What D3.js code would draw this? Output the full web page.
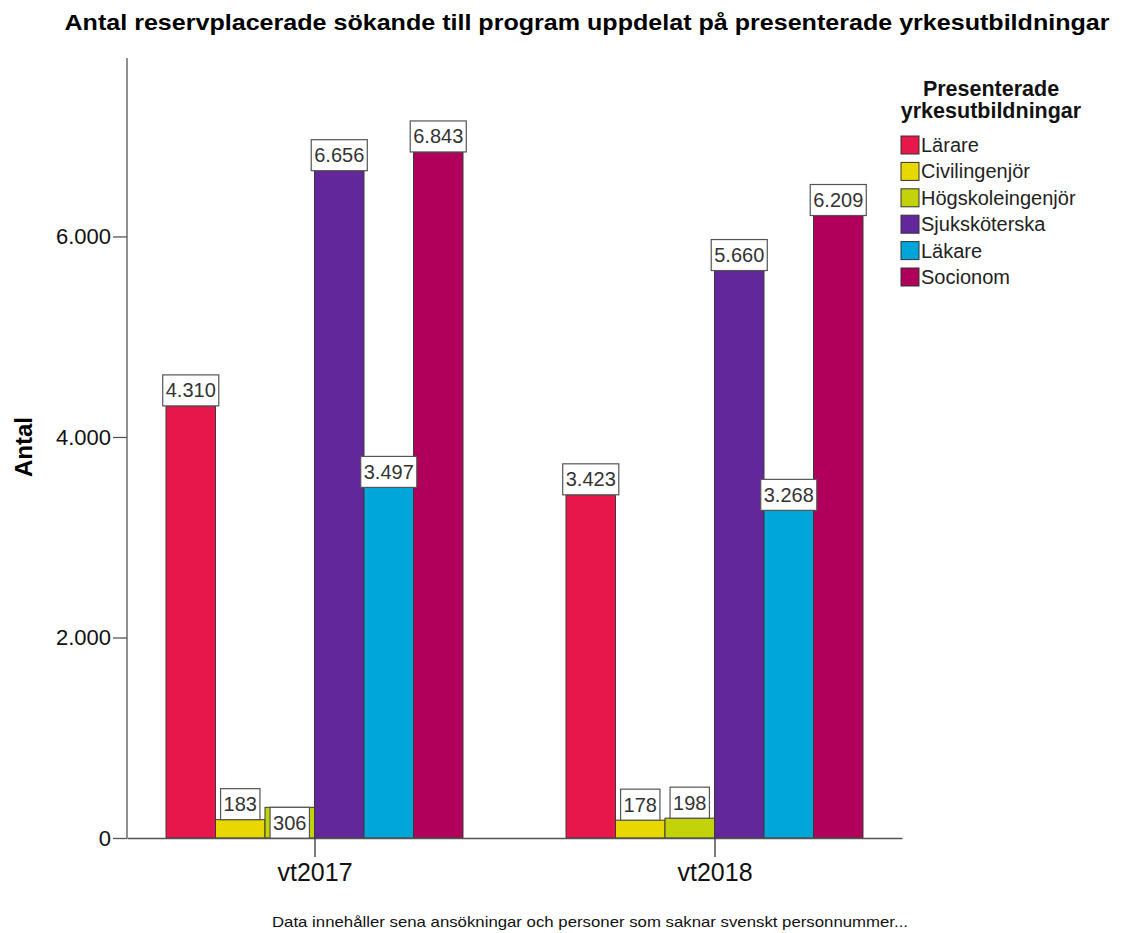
<!DOCTYPE html>
<html><head><meta charset="utf-8">
<script src="https://cdn.jsdelivr.net/npm/d3@7"></script>
<style>body{margin:0;background:#fff}svg{display:block}text{font-family:"Liberation Sans",Arial,sans-serif}</style>
</head><body>
<script>
const groups = ["vt2017", "vt2018"];
const series = ["Lärare", "Civilingenjör", "Högskoleingenjör", "Sjuksköterska", "Läkare", "Socionom"];
const values2017 = [4310, 183, 306, 6656, 3497, 6843];
const values2018 = [3423, 178, 198, 5660, 3268, 6209];
const colors = ["#E8174B", "#E8D800", "#C2D30A", "#62279B", "#00A6DA", "#B0005B"];
const yTicks = [0, 2000, 4000, 6000];
const insideLabels = ["vt2017|Högskoleingenjör"];
const title = "Antal reservplacerade sökande till program uppdelat på presenterade yrkesutbildningar";
const legendTitle = ["Presenterade", "yrkesutbildningar"];
const footnote = "Data innehåller sena ansökningar och personer som saknar svenskt personnummer...";

(function () {
const data = groups.map((g, i) => ({group: g, vals: (i === 0 ? values2017 : values2018)}));
const W = 1125, H = 933;
const svg = d3.select("body").append("svg").attr("width", W).attr("height", H);
const locale = d3.formatLocale({decimal: ",", thousands: ".", grouping: [3], currency: ["", ""]});
const fmt = locale.format(",d");

const pL = 127, pR = 902, pT = 58, pB = 838;
const y = d3.scaleLinear().domain([0, 7780]).range([pB, pT]);
const x0 = d3.scalePoint().domain(groups).range([pL, pR]).padding(0.46875);
const groupW = 297;
const x1 = d3.scaleBand().domain(series).range([-groupW / 2, groupW / 2]).padding(0);
const color = d3.scaleOrdinal().domain(series).range(colors);

svg.append("text").attr("x", 587).attr("y", 30).attr("text-anchor", "middle")
  .attr("font-size", 22).attr("font-weight", "bold").attr("fill", "#000")
  .attr("textLength", 1045).attr("lengthAdjust", "spacingAndGlyphs").text(title);

const g = svg.selectAll("g.grp").data(data).join("g").attr("class", "grp")
  .attr("transform", d => `translate(${x0(d.group)},0)`);
g.selectAll("rect").data(d => d.vals.map((v, i) => ({group: d.group, s: series[i], v})))
  .join("rect")
  .attr("x", d => x1(d.s)).attr("width", x1.bandwidth())
  .attr("y", d => y(d.v)).attr("height", d => y(0) - y(d.v))
  .attr("fill", d => color(d.s)).attr("stroke", "#3a3a3a").attr("stroke-width", 1);

const yAxis = d3.axisLeft(y).tickValues(yTicks).tickFormat(fmt).tickSize(14).tickPadding(2);
const ya = svg.append("g").attr("transform", `translate(${pL},0)`).call(yAxis);
ya.select(".domain").attr("stroke", "#555").attr("stroke-width", 1.3).attr("d", `M0,${pT}V${pB}`);
ya.selectAll(".tick line").attr("stroke", "#555").attr("stroke-width", 1.3);
ya.selectAll(".tick text").attr("font-size", 22).attr("fill", "#111")
  .attr("font-family", '"Liberation Sans",Arial,sans-serif');

const xAxis = d3.axisBottom(x0).tickSize(19).tickPadding(6).tickSizeOuter(0);
const xa = svg.append("g").attr("transform", `translate(0,${pB})`).call(xAxis);
xa.select(".domain").attr("stroke", "#555").attr("stroke-width", 1.3);
xa.selectAll(".tick line").attr("stroke", "#333").attr("stroke-width", 1.3);
xa.selectAll(".tick text").attr("font-size", 25).attr("fill", "#111")
  .attr("font-family", '"Liberation Sans",Arial,sans-serif');

svg.append("text").attr("transform", "translate(32,447) rotate(-90)").attr("text-anchor", "middle")
  .attr("font-size", 24).attr("font-weight", "bold").attr("fill", "#000").text("Antal");

g.each(function(d) {
  const gg = d3.select(this);
  d.vals.forEach((v, i) => {
    const s = series[i];
    const inside = insideLabels.includes(d.group + "|" + s);
    const cx = x1(s) + x1.bandwidth() / 2;
    const bh = 31;
    const boxTop = inside ? y(v) : y(v) - bh;
    const lg = gg.append("g");
    const t = lg.append("text").attr("x", cx).attr("y", boxTop + bh / 2 + 7)
      .attr("text-anchor", "middle").attr("font-size", 20).attr("fill", "#333").text(fmt(v));
    const bw = t.node().getComputedTextLength() + 6;
    lg.insert("rect", "text").attr("x", cx - bw / 2).attr("y", boxTop)
      .attr("width", bw).attr("height", bh).attr("fill", "#fff")
      .attr("stroke", "#555").attr("stroke-width", 1.2);
  });
});

const lgd = svg.append("g");
legendTitle.forEach((t, i) => lgd.append("text").attr("x", 991).attr("y", 96 + i * 22)
  .attr("text-anchor", "middle").attr("font-size", 21.5).attr("font-weight", "bold").attr("fill", "#111").text(t));
series.forEach((s, i) => {
  const cy = 145 + i * 26.4;
  lgd.append("rect").attr("x", 901).attr("y", cy - 9).attr("width", 18).attr("height", 18)
    .attr("fill", color(s)).attr("stroke", "#333").attr("stroke-width", 1);
  lgd.append("text").attr("x", 921).attr("y", cy + 7).attr("font-size", 20).attr("fill", "#222").text(s);
});

svg.append("text").attr("x", 272).attr("y", 927).attr("font-size", 15).attr("fill", "#111")
  .attr("textLength", 636).attr("lengthAdjust", "spacingAndGlyphs").text(footnote);
})();
</script>
</body></html>
